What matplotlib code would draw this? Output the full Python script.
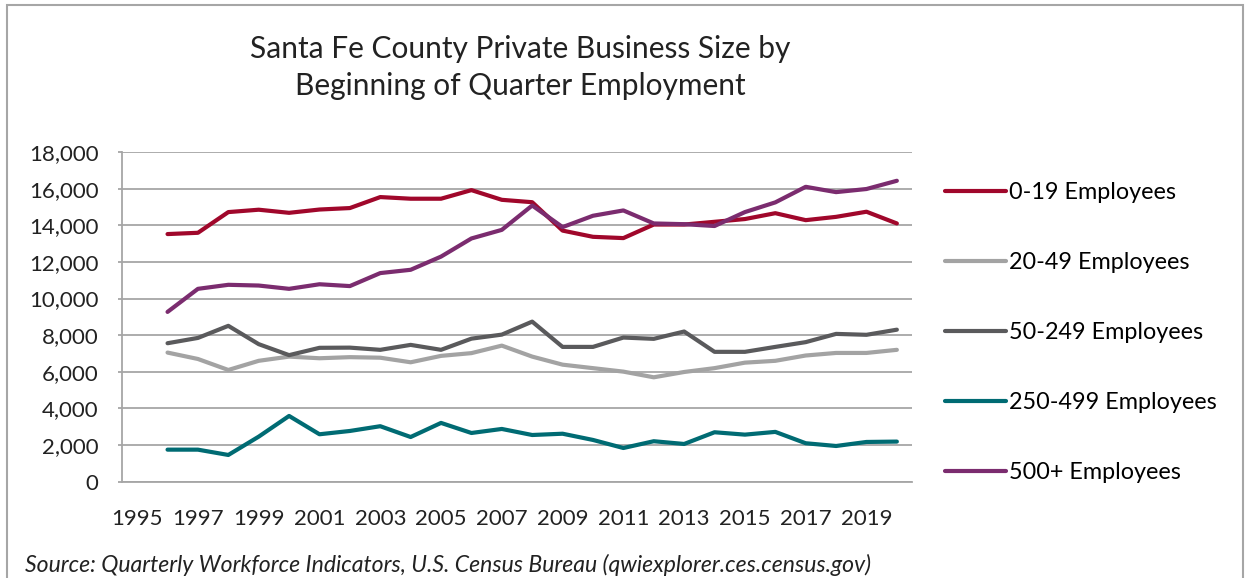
import matplotlib.pyplot as plt
from matplotlib.patches import Rectangle
from matplotlib.ticker import FuncFormatter

plt.rcParams['font.family'] = ['Lato', 'DejaVu Sans']

# employment by business size, 1996-2020
years = list(range(1996, 2021))
emp_0_19 = [13520, 13590, 14720, 14850, 14680, 14860, 14940, 15540, 15450, 15450,
            15920, 15390, 15260, 13710, 13370, 13300, 14040, 14040, 14190, 14340,
            14660, 14280, 14460, 14740, 14100]
emp_20_49 = [7050, 6700, 6100, 6600, 6830, 6740, 6800, 6770, 6520, 6870,
             7020, 7430, 6830, 6390, 6200, 6010, 5700, 5990, 6200, 6500,
             6600, 6890, 7030, 7030, 7200]
emp_50_249 = [7560, 7850, 8510, 7510, 6910, 7310, 7320, 7200, 7470, 7200,
              7810, 8030, 8740, 7360, 7360, 7870, 7800, 8200, 7090, 7090,
              7360, 7620, 8070, 8020, 8300]
emp_250_499 = [1750, 1750, 1460, 2460, 3590, 2590, 2770, 3030, 2440, 3210,
               2660, 2880, 2550, 2620, 2280, 1840, 2210, 2060, 2700, 2570,
               2720, 2100, 1950, 2170, 2190]
emp_500 = [9270, 10530, 10750, 10710, 10530, 10780, 10680, 11390, 11570, 12290,
           13280, 13750, 15080, 13900, 14520, 14810, 14100, 14060, 13960, 14720,
           15250, 16100, 15810, 15980, 16430]

labels = ['0-19 Employees', '20-49 Employees', '50-249 Employees',
          '250-499 Employees', '500+ Employees']
colors = ['#A0072B', '#A3A3A3', '#5A5A5C', '#006B73', '#7B2C6F']
series = [emp_0_19, emp_20_49, emp_50_249, emp_250_499, emp_500]

fig = plt.figure(figsize=(12.47, 5.78), dpi=100)
ax = fig.add_axes([0.0978, 0.1666, 0.6336, 0.5704])

for vals, lab, col in zip(series, labels, colors):
    ax.plot(years, vals, color=col, lw=3.0, label=lab, solid_capstyle='round')

ax.set_xlim(1994.5, 2020.5)
ax.set_ylim(0, 18000)
ax.set_xticks(range(1995, 2020, 2))
ax.set_yticks(range(0, 18001, 2000))
ax.yaxis.set_major_formatter(FuncFormatter(lambda v, p: f'{int(v):,}'))
ax.grid(axis='y', color='#A6A6A6', lw=1.3)
ax.set_axisbelow(True)
for s in ['top', 'right']:
    ax.spines[s].set_visible(False)
for s in ['left', 'bottom']:
    ax.spines[s].set_color('#A6A6A6')
    ax.spines[s].set_linewidth(1.3)
ax.tick_params(axis='y', length=3, color='#A6A6A6', width=1.3, pad=14,
               labelsize=16, labelcolor='#222222')
ax.tick_params(axis='x', length=0, pad=20, labelsize=16, labelcolor='#222222')

ax.legend(loc='center left', bbox_to_anchor=(1.03, 0.453), frameon=False,
          fontsize=16.8, handlelength=2.6, handletextpad=0.15,
          labelspacing=2.1, borderaxespad=0)

fig.text(0.417, 0.915, 'Santa Fe County Private Business Size by',
         ha='center', va='center', fontsize=21.5, color='#222222')
fig.text(0.417, 0.852, 'Beginning of Quarter Employment',
         ha='center', va='center', fontsize=21.5, color='#222222')
fig.text(0.02, 0.022, 'Source: Quarterly Workforce Indicators, U.S. Census Bureau '
         '(qwiexplorer.ces.census.gov)', fontsize=16.6, style='italic',
         color='#222222', ha='left', va='center')

# chart border
fig.patches.append(Rectangle((0.0056, -0.05), 0.9912, 1.0413, transform=fig.transFigure,
                             fill=False, edgecolor='#A6A6A6', lw=1.5))

fig.savefig('out.png', dpi=100)
